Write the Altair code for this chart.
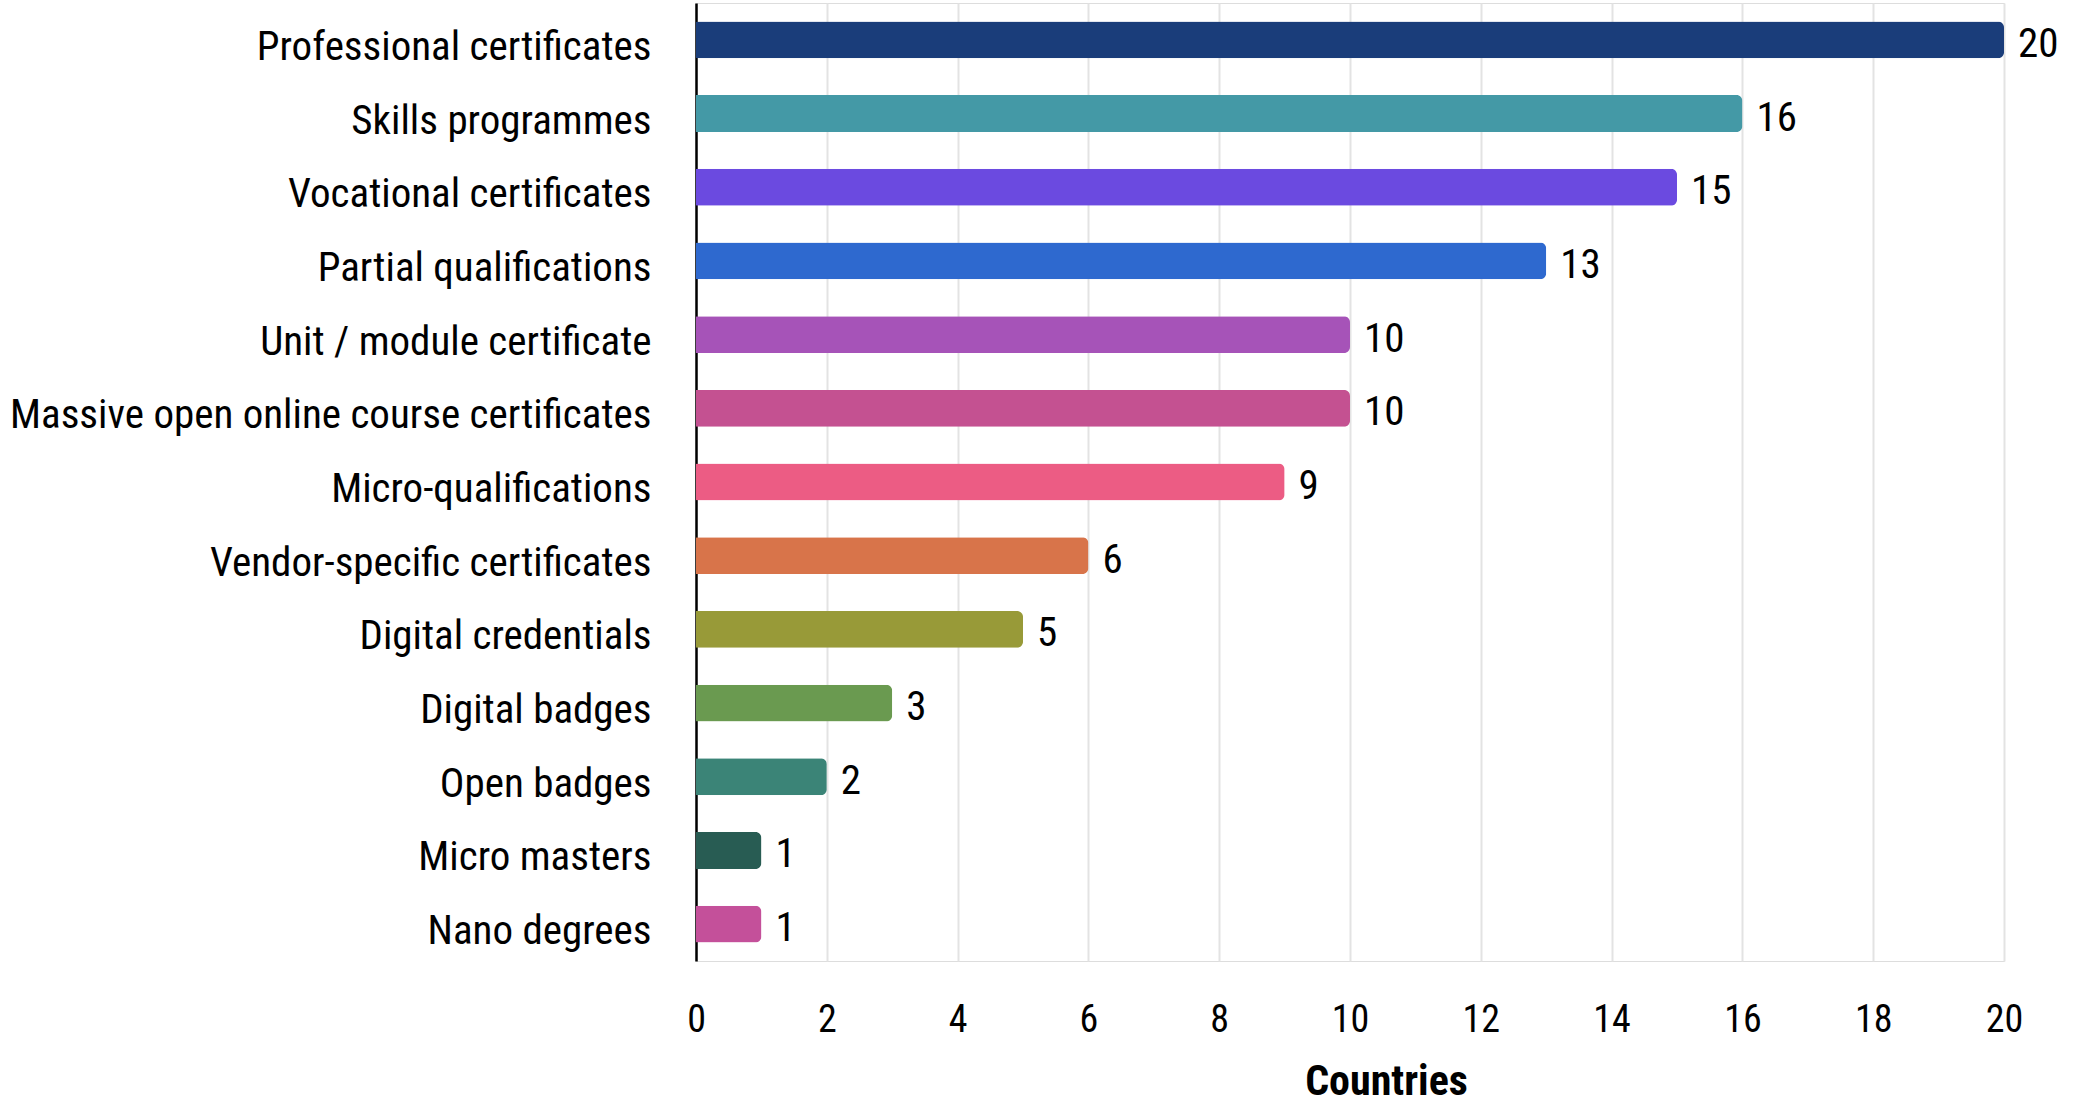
import altair as alt
import pandas as pd

categories = [
    "Professional certificates",
    "Skills programmes",
    "Vocational certificates",
    "Partial qualifications",
    "Unit / module certificate",
    "Massive open online course certificates",
    "Micro-qualifications",
    "Vendor-specific certificates",
    "Digital credentials",
    "Digital badges",
    "Open badges",
    "Micro masters",
    "Nano degrees",
]
values = [20, 16, 15, 13, 10, 10, 9, 6, 5, 3, 2, 1, 1]
colors = [
    "#1a3d7a", "#4499a6", "#6b4ae0", "#2e69cf", "#a653b8", "#c45191",
    "#ec5c84", "#d8744a", "#989a38", "#6a9a50", "#3b8477", "#285c53",
    "#c4509a",
]
x_ticks = list(range(0, 21, 2))

df = pd.DataFrame({"category": categories, "value": values, "color": colors})

FONT = "Liberation Sans Narrow, Roboto Condensed, DejaVu Sans Condensed, sans-serif"

y_enc = alt.Y(
    "category:N",
    sort=categories,
    scale=alt.Scale(paddingInner=0.5, paddingOuter=0.25),
    axis=alt.Axis(
        title=None,
        ticks=False,
        domain=True,
        domainColor="#000000",
        domainWidth=2.5,
        labelFont=FONT,
        labelFontSize=41,
        labelColor="#000000",
        labelPadding=45,
        labelOffset=8,
        labelLimit=800,
        grid=False,
    ),
)

x_enc = alt.X(
    "value:Q",
    scale=alt.Scale(domain=[0, 20], nice=False),
    axis=alt.Axis(
        title="Countries",
        titleFont=FONT,
        titleFontSize=42,
        titleFontWeight="bold",
        titleColor="#000000",
        titlePadding=22,
        titleX=690,
        values=x_ticks,
        format="d",
        labelFont=FONT,
        labelFontSize=38,
        labelColor="#000000",
        labelPadding=40,
        labelFlush=False,
        ticks=False,
        domain=False,
        grid=True,
        gridColor="#e3e3e3",
        gridWidth=2,
    ),
)

bars = alt.Chart(df).mark_bar(cornerRadiusEnd=6).encode(
    x=x_enc,
    y=y_enc,
    color=alt.Color("color:N", scale=None),
)

labels = alt.Chart(df).mark_text(
    align="left", baseline="middle", dx=14, dy=5, font=FONT, fontSize=41, color="#000000"
).encode(
    x=alt.X("value:Q"),
    y=alt.Y("category:N", sort=categories),
    text=alt.Text("value:Q"),
)

chart = (
    alt.layer(bars, labels)
    .properties(
        width=1308,
        height=958,
        autosize=alt.AutoSizeParams(type="none"),
        padding={"left": 696, "top": 3, "right": 76, "bottom": 144},
    )
    .configure_view(stroke=None)
    .configure(background="#ffffff")
)

chart.save("out.html", embed_options={"renderer": "svg", "actions": False})
